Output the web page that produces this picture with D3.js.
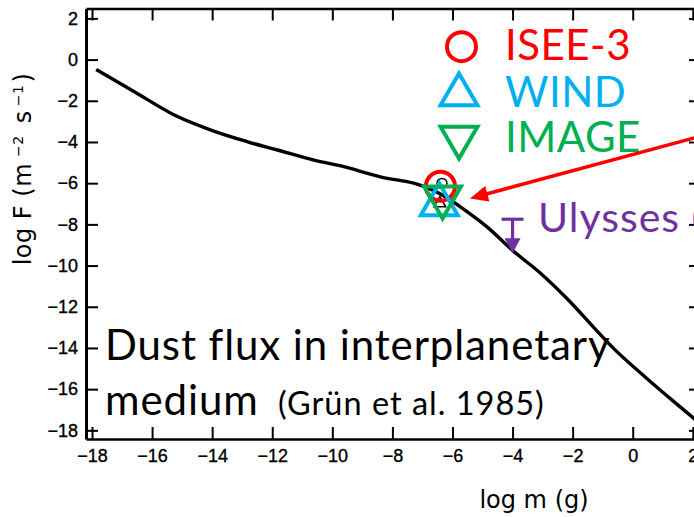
<!DOCTYPE html>
<html>
<head>
<meta charset="utf-8">
<script src="https://cdn.jsdelivr.net/npm/d3@7"></script>
<style>
  html, body { margin: 0; padding: 0; background: #fff; }
  svg { display: block; }
</style>
</head>
<body>
<svg id="chart" width="694" height="517"></svg>
<script>
// Interplanetary dust flux model (Grün et al. 1985): log m (g) vs log F (m^-2 s^-1)
const logMass = [-17.86, -16.59, -15.26, -14.04, -12.82, -11.83, -10.61, -9.62, -8.40,
                 -7.29, -6.73, -6.17, -5.63, -4.85, -3.97, -3.08, -2.19, -0.64, 0.47, 1.57, 2.10];
const logFlux = [-0.48, -1.56, -2.69, -3.42, -3.99, -4.39, -4.88, -5.20, -5.69,
                 -6.00, -6.29, -6.72, -7.26, -8.12, -9.30, -10.36, -11.60, -14.02, -15.48, -16.85, -17.50];

// Tick values on both axes
const xTickValues = [-18, -16, -14, -12, -10, -8, -6, -4, -2, 0, 2];
const yTickValues = [2, 0, -2, -4, -6, -8, -10, -12, -14, -16, -18];

// Spacecraft measurements
const craftNames  = ["ISEE-3", "WIND", "IMAGE"];
const craftSymbol = ["circle", "triangle", "invtriangle"];
const craftColors = ["#FF0000", "#00B0F0", "#00B050"];
const craftMass   = [-6.40, -6.44, -6.33];
const craftFlux   = [-6.15, -7.04, -6.68];

// Original data points of the model figure (small black symbols)
const basePointMass = [-6.35, -6.42];
const basePointFlux = [-6.01, -6.98];

// Ulysses upper limit
const ulyssesMass = -4.0;
const ulyssesFlux = -7.75;
const ulyssesArrowTo = -9.40;

// Red pointer arrow (from outside the frame to the spacecraft points)
const pointerFrom = [2.24, -3.73];
const pointerTo   = [-5.42, -6.74];

const svg = d3.select("#chart");

const x = d3.scaleLinear().domain([-18.2, 2.04]).range([86, 694]);
const y = d3.scaleLinear().domain([-18.42, 2.48]).range([439, 8.5]);

const tickFont = "'Liberation Sans', Arial, sans-serif";
const titleFont = "'DejaVu Sans', sans-serif";
const calloutFont = "Lato, 'Open Sans', sans-serif";

// ---- Axes ----
const styleAxis = (g, lw) => {
  g.attr("font-size", null).attr("font-family", null);
  g.select(".domain").attr("stroke", "#000").attr("stroke-width", lw);
  g.selectAll(".tick line").attr("stroke", "#000").attr("stroke-width", 2);
  g.selectAll(".tick text")
    .attr("fill", "#000").attr("stroke", "#000").attr("stroke-width", 0.35)
    .attr("font-family", tickFont).attr("font-size", 18);
};

const fmt = d => d < 0 ? "\u2212" + Math.abs(d) : String(d);

svg.append("g")
  .attr("transform", `translate(0,${y.range()[0]})`)
  .call(d3.axisBottom(x).tickValues(xTickValues).tickFormat(fmt)
        .tickSizeInner(-12).tickSizeOuter(0).tickPadding(10))
  .call(g => styleAxis(g, 2.6));

svg.append("g")
  .attr("transform", `translate(${x.range()[0]},0)`)
  .call(d3.axisLeft(y).tickValues(yTickValues).tickFormat(fmt)
        .tickSizeInner(-12).tickSizeOuter(0).tickPadding(8))
  .call(g => styleAxis(g, 3));

svg.append("g")
  .attr("transform", `translate(0,${y.range()[1]})`)
  .call(d3.axisTop(x).tickValues(xTickValues).tickFormat("")
        .tickSizeInner(-12).tickSizeOuter(0))
  .call(g => styleAxis(g, 2.4));

svg.append("g")
  .attr("transform", `translate(699,0)`)
  .call(d3.axisRight(y).tickValues(yTickValues).tickFormat("")
        .tickSizeInner(-10).tickSizeOuter(0))
  .call(g => styleAxis(g, 2.4));

// Axis titles
svg.append("text")
  .attr("x", 534).attr("y", 508)
  .attr("text-anchor", "middle")
  .style("font-family", titleFont).style("font-size", "24px")
  .text("log m (g)");

const yTitle = svg.append("text")
  .attr("transform", "translate(31,169) rotate(-90)")
  .attr("text-anchor", "middle")
  .style("font-family", titleFont).style("font-size", "24px")
  .style("letter-spacing", "0.5px");
yTitle.append("tspan").text("log F  (m");
yTitle.append("tspan").attr("dx", 6).attr("dy", -8).style("font-size", "14px").text("\u22122");
yTitle.append("tspan").attr("dx", 4).attr("dy", 8).text(" s");
yTitle.append("tspan").attr("dx", 4).attr("dy", -8).style("font-size", "14px").text("\u22121");
yTitle.append("tspan").attr("dx", 2).attr("dy", 8).text(")");

// ---- Model curve ----
const curvePts = logMass.map((m, i) => [m, logFlux[i]]);
svg.append("path")
  .datum(curvePts)
  .attr("fill", "none")
  .attr("stroke", "#000")
  .attr("stroke-width", 3.4)
  .attr("stroke-linejoin", "round")
  .attr("d", d3.line().x(d => x(d[0])).y(d => y(d[1])).curve(d3.curveCatmullRom.alpha(0.5)));

// Small black symbols of the model figure
svg.append("circle")
  .attr("cx", x(basePointMass[0])).attr("cy", y(basePointFlux[0]))
  .attr("r", 5).attr("fill", "none").attr("stroke", "#000").attr("stroke-width", 1.5);
svg.append("path")
  .attr("transform", `translate(${x(basePointMass[1])},${y(basePointFlux[1])})`)
  .attr("d", d3.symbol().type(d3.symbolTriangle).size(60)())
  .attr("fill", "none").attr("stroke", "#000").attr("stroke-width", 1.5);

// ---- Text callouts ----
svg.append("text")
  .attr("x", 105).attr("y", 360)
  .style("font-family", calloutFont).style("font-size", "42px")
  .style("letter-spacing", "0.9px").attr("fill", "#000")
  .text("Dust flux in interplanetary");
svg.append("text")
  .attr("x", 105).attr("y", 415)
  .style("font-family", calloutFont).style("font-size", "42px")
  .style("letter-spacing", "0.9px").attr("fill", "#000")
  .text("medium");
svg.append("text")
  .attr("x", 278).attr("y", 415)
  .style("font-family", calloutFont).style("font-size", "32.5px")
  .style("letter-spacing", "1px").attr("fill", "#000")
  .text("(Grün et al. 1985)");

// ---- Spacecraft symbols ----
const symbolPath = (kind) => {
  if (kind === "circle") return d3.symbol().type(d3.symbolCircle).size(Math.PI * 14.5 * 14.5)();
  return d3.symbol().type(d3.symbolTriangle).size(590)();
};
const symbolTransform = (kind, px, py) =>
  kind === "invtriangle" ? `translate(${px},${py}) rotate(180)` : `translate(${px},${py})`;

craftNames.forEach((name, i) => {
  svg.append("path")
    .attr("transform", symbolTransform(craftSymbol[i], x(craftMass[i]), y(craftFlux[i])))
    .attr("d", symbolPath(craftSymbol[i]))
    .attr("fill", "none")
    .attr("stroke", craftColors[i])
    .attr("stroke-width", 4);
});

// Legend
const legendSymX = [461.5, 459, 459];
const legendSymY = [46.7, 94.7, 137.3];
const legendTextY = [60, 106.5, 151.5];
craftNames.forEach((name, i) => {
  svg.append("path")
    .attr("transform", symbolTransform(craftSymbol[i], legendSymX[i], legendSymY[i]))
    .attr("d", symbolPath(craftSymbol[i]))
    .attr("fill", "none")
    .attr("stroke", craftColors[i])
    .attr("stroke-width", 4);
  svg.append("text")
    .attr("x", 505).attr("y", legendTextY[i])
    .attr("fill", craftColors[i])
    .style("font-family", calloutFont).style("font-size", "42px")
    .style("letter-spacing", "0.5px")
    .text(name);
});

// ---- Ulysses upper limit ----
const ulyColor = "#7030A0";
const ux = x(ulyssesMass), uy = y(ulyssesFlux), utip = y(ulyssesArrowTo);
svg.append("line")
  .attr("x1", ux - 11).attr("x2", ux + 11).attr("y1", uy).attr("y2", uy)
  .attr("stroke", ulyColor).attr("stroke-width", 3.2);
svg.append("line")
  .attr("x1", ux).attr("x2", ux).attr("y1", uy).attr("y2", utip - 12)
  .attr("stroke", ulyColor).attr("stroke-width", 3.2);
svg.append("path")
  .attr("d", d3.line()([[ux - 8, utip - 15], [ux + 8, utip - 15], [ux, utip]]) + "Z")
  .attr("fill", ulyColor);
svg.append("text")
  .attr("x", 538).attr("y", 231.5)
  .attr("fill", ulyColor)
  .style("font-family", calloutFont).style("font-size", "41px")
  .style("letter-spacing", "1px")
  .text("Ulysses (");

// ---- Red pointer arrow ----
const p0 = [x(pointerFrom[0]), y(pointerFrom[1])];
const p1 = [x(pointerTo[0]), y(pointerTo[1])];
const ang = Math.atan2(p1[1] - p0[1], p1[0] - p0[0]);
const headLen = 18, headHalf = 8;
const base = [p1[0] - headLen * Math.cos(ang), p1[1] - headLen * Math.sin(ang)];
svg.append("line")
  .attr("x1", p0[0]).attr("y1", p0[1])
  .attr("x2", base[0] + 2 * Math.cos(ang)).attr("y2", base[1] + 2 * Math.sin(ang))
  .attr("stroke", "#FF0000").attr("stroke-width", 3.5);
svg.append("path")
  .attr("d", d3.line()([
    p1,
    [base[0] + headHalf * Math.sin(ang), base[1] - headHalf * Math.cos(ang)],
    [base[0] - headHalf * Math.sin(ang), base[1] + headHalf * Math.cos(ang)]
  ]) + "Z")
  .attr("fill", "#FF0000");
</script>
</body>
</html>
